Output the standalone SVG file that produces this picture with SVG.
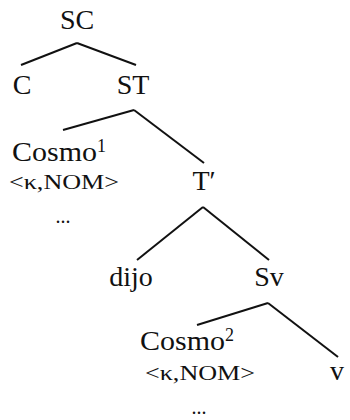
<svg xmlns="http://www.w3.org/2000/svg" width="350" height="420" viewBox="0 0 350 420">
<style>
.lbl{font-family:"Liberation Serif","DejaVu Serif",serif;font-size:28px;fill:#111;text-anchor:middle}
.ft{font-family:"Liberation Serif","DejaVu Serif",serif;font-size:20px;fill:#111}
.sup{font-size:18px}
.edge{stroke:#111;stroke-width:2;fill:none;stroke-linecap:butt}
</style>
<rect width="350" height="420" fill="#fff"/>
<g id="connectors">
<line class="edge" x1="77" y1="43" x2="21" y2="65"/>
<line class="edge" x1="77" y1="43" x2="136" y2="65"/>
<line class="edge" x1="134" y1="110" x2="63" y2="130"/>
<line class="edge" x1="134" y1="110" x2="204" y2="163"/>
<line class="edge" x1="203" y1="207" x2="137" y2="260"/>
<line class="edge" x1="203" y1="207" x2="269" y2="260"/>
<line class="edge" x1="268" y1="303" x2="197" y2="325"/>
<line class="edge" x1="268" y1="303" x2="338" y2="357"/>
</g>
<g id="SC"><text class="lbl" x="77" y="29">SC</text></g>
<g id="C"><text class="lbl" x="22" y="94">C</text></g>
<g id="ST"><text class="lbl" x="133" y="94">ST</text></g>
<g id="Cosmo1">
<text class="lbl" x="12" y="161" style="text-anchor:start" textLength="85" lengthAdjust="spacingAndGlyphs">Cosmo</text>
<text class="lbl sup" x="97" y="152" style="text-anchor:start">1</text>
<text class="ft" x="9" y="189" textLength="110" lengthAdjust="spacingAndGlyphs">&lt;κ,NOM&gt;</text>
<text class="ft" x="63" y="223" style="text-anchor:middle">...</text>
</g>
<g id="Tbar"><text class="lbl" x="204" y="190">T′</text></g>
<g id="dijo"><text class="lbl" x="131" y="286">dijo</text></g>
<g id="Sv"><text class="lbl" x="269" y="286">Sv</text></g>
<g id="Cosmo2">
<text class="lbl" x="140" y="350" style="text-anchor:start" textLength="85" lengthAdjust="spacingAndGlyphs">Cosmo</text>
<text class="lbl sup" x="225" y="341" style="text-anchor:start">2</text>
<text class="ft" x="145" y="380" textLength="110" lengthAdjust="spacingAndGlyphs">&lt;κ,NOM&gt;</text>
<text class="ft" x="199" y="414" style="text-anchor:middle">...</text>
</g>
<g id="v"><text class="lbl" x="337" y="380">v</text></g>
</svg>
